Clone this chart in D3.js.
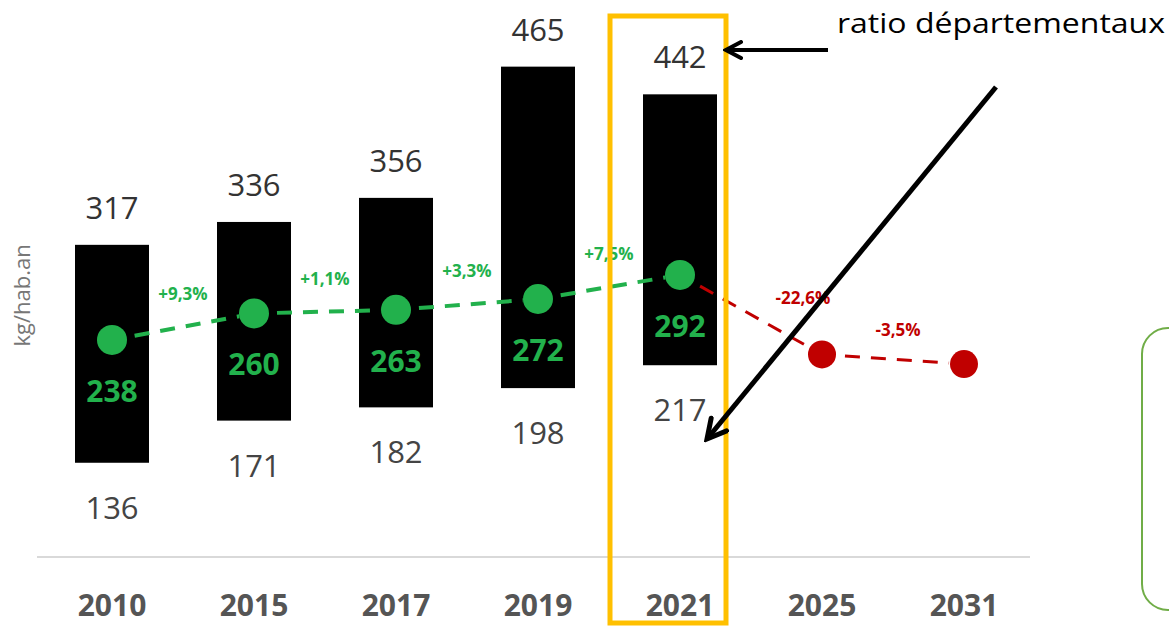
<!DOCTYPE html>
<html>
<head>
<meta charset="utf-8">
<script src="https://cdn.jsdelivr.net/npm/d3@7"></script>
<style>
  body { margin: 0; background: #fff; }
  svg { display: block; font-family: "Open Sans", "Noto Sans", sans-serif; }
</style>
</head>
<body>
<div id="chart"></div>
<script>
// values
const years = ["2010", "2015", "2017", "2019", "2021", "2025", "2031"];
const highValues = [317, 336, 356, 465, 442];   // top of each bar
const lowValues = [136, 171, 182, 198, 217];    // bottom of each bar
const ratioValues = [238, 260, 263, 272, 292, 226, 218];
const changeLabels = ["+9,3%", "+1,1%", "+3,3%", "+7,5%", "-22,6%", "-3,5%"];
const lastMeasured = "2021"; // after this year the points are forecasts (red)
const highlightYear = "2021";
const calloutText = "ratio départementaux";

const width = 1169, height = 628;
const green = "#22b14c", red = "#c00000";

const svg = d3.select("#chart").append("svg")
    .attr("width", width)
    .attr("height", height);

const x = d3.scaleBand()
    .domain(years)
    .range([41, 1035])
    .paddingInner(0.48)
    .paddingOuter(0.24);

const y = d3.scaleLinear()
    .domain([0, 500])
    .range([626.5, 24.5]);

const cx = d => x(d) + x.bandwidth() / 2;
const barW = 74;

// baseline
svg.append("line")
    .attr("x1", 37).attr("x2", 1030)
    .attr("y1", y(57.7)).attr("y2", y(57.7))
    .attr("stroke", "#d9d9d9")
    .attr("stroke-width", 2);

// y axis title
svg.append("text")
    .attr("transform", "translate(30," + y(275) + ") rotate(-90)")
    .attr("text-anchor", "middle")
    .attr("font-size", 22)
    .attr("fill", "#777")
    .text("kg/hab.an");

// bars (min..max range)
const bars = years.slice(0, highValues.length).map((yr, i) => ({ yr, hi: highValues[i], lo: lowValues[i] }));

svg.selectAll("rect.bar")
    .data(bars)
    .enter().append("rect")
    .attr("class", "bar")
    .attr("x", d => cx(d.yr) - barW / 2)
    .attr("width", barW)
    .attr("y", d => y(d.hi))
    .attr("height", d => y(d.lo) - y(d.hi))
    .attr("fill", "#000");

svg.selectAll("text.hi")
    .data(bars)
    .enter().append("text")
    .attr("class", "hi")
    .attr("x", d => cx(d.yr))
    .attr("y", d => y(d.hi) - 26)
    .attr("text-anchor", "middle")
    .attr("font-size", 31)
    .attr("fill", "#333")
    .text(d => d.hi);

svg.selectAll("text.lo")
    .data(bars)
    .enter().append("text")
    .attr("class", "lo")
    .attr("x", d => cx(d.yr))
    .attr("y", d => y(d.lo) + 56)
    .attr("text-anchor", "middle")
    .attr("font-size", 31)
    .attr("fill", "#444")
    .text(d => d.lo);

// ratio points + dashed connectors
const pts = years.map((yr, i) => ({ yr, v: ratioValues[i], forecast: +yr > +lastMeasured }));
const r = 15;

const segs = d3.pairs(pts).map(([a, b], i) => ({ a, b, label: changeLabels[i], color: b.forecast ? red : green }));

segs.forEach(s => {
    const x1 = cx(s.a.yr), y1 = y(s.a.v), x2 = cx(s.b.yr), y2 = y(s.b.v);
    const len = Math.hypot(x2 - x1, y2 - y1);
    const ux = (x2 - x1) / len, uy = (y2 - y1) / len;
    const st = r + 8;
    svg.append("line")
        .attr("x1", x1 + ux * st).attr("y1", y1 + uy * st)
        .attr("x2", x2 - ux * r).attr("y2", y2 - uy * r)
        .attr("stroke", s.color)
        .attr("stroke-width", s.color === red ? 3 : 4)
        .attr("stroke-dasharray", "15,11");
});

// percent change labels
const labelShift = { "-22,6%": [52, 16], "-3,5%": [5, 4] };
svg.selectAll("text.chg")
    .data(segs)
    .enter().append("text")
    .attr("class", "chg")
    .attr("x", d => (cx(d.a.yr) + cx(d.b.yr)) / 2 + (labelShift[d.label] || [0, 0])[0])
    .attr("y", d => (y(d.a.v) + y(d.b.v)) / 2 - 27 + (labelShift[d.label] || [0, 0])[1])
    .attr("text-anchor", "middle")
    .attr("font-size", 17)
    .attr("font-weight", "bold")
    .attr("fill", d => d.color)
    .text(d => d.label);

svg.selectAll("circle.pt")
    .data(pts)
    .enter().append("circle")
    .attr("class", "pt")
    .attr("cx", d => cx(d.yr))
    .attr("cy", d => y(d.v))
    .attr("r", d => d.forecast ? 14 : r)
    .attr("fill", d => d.forecast ? red : green);

svg.selectAll("text.ptv")
    .data(pts.filter(d => !d.forecast))
    .enter().append("text")
    .attr("class", "ptv")
    .attr("x", d => cx(d.yr))
    .attr("y", d => y(d.v) + 62)
    .attr("text-anchor", "middle")
    .attr("font-size", 30)
    .attr("font-weight", "bold")
    .attr("fill", green)
    .text(d => d.v);

// year labels
svg.selectAll("text.year")
    .data(years)
    .enter().append("text")
    .attr("class", "year")
    .attr("x", d => cx(d))
    .attr("y", 616)
    .attr("text-anchor", "middle")
    .attr("font-size", 30)
    .attr("font-weight", "bold")
    .attr("fill", "#555")
    .text(d => d);

// ---- annotations ----
svg.append("rect")
    .attr("x", cx(highlightYear) - 70)
    .attr("y", 16)
    .attr("width", 116)
    .attr("height", 607)
    .attr("fill", "none")
    .attr("stroke", "#ffc000")
    .attr("stroke-width", 5);

svg.append("defs").append("marker")
    .attr("id", "arr")
    .attr("viewBox", "0 0 10 10")
    .attr("refX", 8.5).attr("refY", 5)
    .attr("markerWidth", 5).attr("markerHeight", 5)
    .attr("orient", "auto")
    .append("path")
    .attr("d", "M1,1 L8.5,5 L1,9")
    .attr("fill", "none")
    .attr("stroke", "#000")
    .attr("stroke-width", 2)
    .attr("stroke-linecap", "round");

svg.append("line")
    .attr("x1", 828).attr("y1", 50)
    .attr("x2", 726).attr("y2", 50)
    .attr("stroke", "#000")
    .attr("stroke-width", 4)
    .attr("marker-end", "url(#arr)");

svg.append("text")
    .attr("x", 837)
    .attr("y", 33)
    .attr("font-size", 28)
    .attr("textLength", 328)
    .attr("lengthAdjust", "spacingAndGlyphs")
    .attr("fill", "#000")
    .text(calloutText);

svg.append("line")
    .attr("x1", 996).attr("y1", 87)
    .attr("x2", 707).attr("y2", 439)
    .attr("stroke", "#000")
    .attr("stroke-width", 5)
    .attr("marker-end", "url(#arr)");

svg.append("rect")
    .attr("x", 1142)
    .attr("y", 328)
    .attr("width", 80)
    .attr("height", 282)
    .attr("rx", 26)
    .attr("fill", "none")
    .attr("stroke", "#70ad47")
    .attr("stroke-width", 2);
</script>
</body>
</html>
